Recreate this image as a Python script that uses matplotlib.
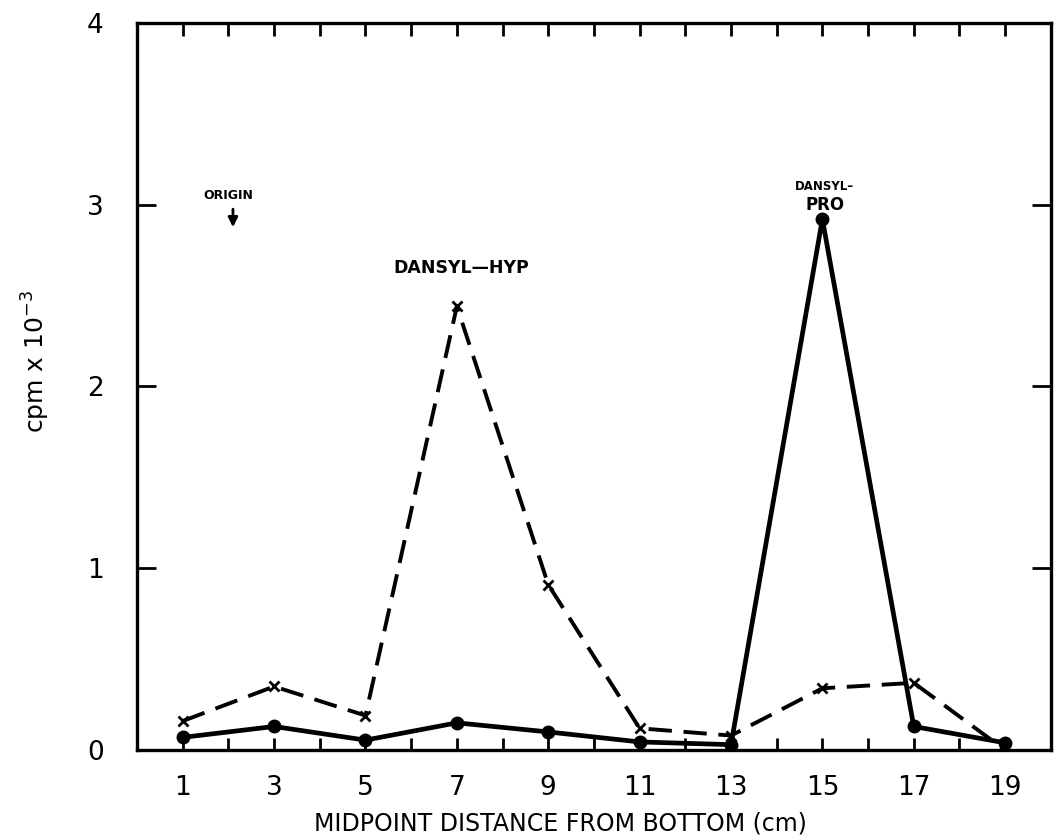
import matplotlib
matplotlib.use("Agg")
import matplotlib.pyplot as plt

plt.rcParams['font.family'] = 'DejaVu Sans'

# fraction midpoints (cm) and counts (cpm x 10^-3)
distance = [1, 3, 5, 7, 9, 11, 13, 15, 17, 19]
pro_cpm = [0.07, 0.13, 0.055, 0.15, 0.10, 0.045, 0.03, 2.92, 0.13, 0.04]
hyp_cpm = [0.16, 0.35, 0.19, 2.44, 0.91, 0.12, 0.08, 0.34, 0.37, 0.0]

xticks = [1, 3, 5, 7, 9, 11, 13, 15, 17, 19]
yticks = [0, 1, 2, 3, 4]

fig = plt.figure(figsize=(10.54, 8.4), dpi=100)
ax = fig.add_axes([0.13, 0.107, 0.867, 0.866])

ax.plot(distance, hyp_cpm, color='black', lw=2.8, linestyle=(0, (6, 3)),
        marker='x', markersize=7, markeredgewidth=2)
ax.plot(distance, pro_cpm, color='black', lw=3.4, marker='o', markersize=9)

ax.set_xlim(0, 20)
ax.set_ylim(0, 4)

ax.set_xticks(xticks)
ax.set_xticklabels([str(t) for t in xticks])
ax.set_xticks(range(0, 21), minor=True)
ax.set_yticks(yticks)
ax.set_yticklabels([str(t) for t in yticks])

ax.tick_params(axis='both', which='both', direction='in', top=True, right=True,
               width=2, colors='black', labelsize=19)
ax.tick_params(axis='x', which='major', length=9, pad=18)
ax.tick_params(axis='x', which='minor', length=9)
ax.tick_params(axis='y', which='major', length=14, pad=24)

for s in ax.spines.values():
    s.set_linewidth(2.4)

ax.set_xlabel('MIDPOINT DISTANCE FROM BOTTOM (cm)', fontsize=17)
ax.xaxis.set_label_coords(0.463, -0.084)
ax.set_ylabel(r'cpm x 10$^{-3}$', fontsize=18)
ax.yaxis.set_label_coords(-0.093, 0.534)

# peak labels
ax.text(2.0, 3.05, 'ORIGIN', fontsize=9, fontweight='bold', ha='center', va='center')
ax.annotate('', xy=(2.1, 2.86), xytext=(2.1, 2.99),
            arrowprops=dict(arrowstyle='-|>', color='black', lw=2, mutation_scale=14))
ax.text(7.1, 2.65, 'DANSYL\u2014HYP', fontsize=12.5, fontweight='bold', ha='center', va='center')
ax.text(15.05, 3.10, 'DANSYL\u2013', fontsize=8.5, fontweight='bold', ha='center', va='center')
ax.text(15.06, 3.0, 'PRO', fontsize=12, fontweight='bold', ha='center', va='center')

fig.savefig('out.png', dpi=100, facecolor='white')
